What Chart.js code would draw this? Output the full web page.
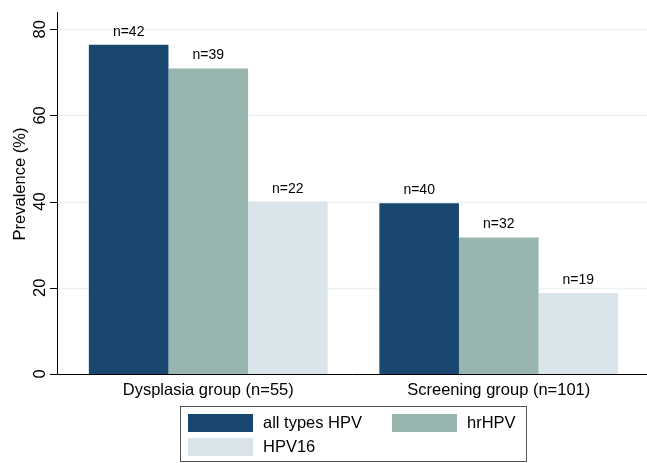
<!DOCTYPE html>
<html lang="en">
<head>
    <meta charset="UTF-8">
    <title>HPV prevalence</title>
    <style>
        html, body { margin: 0; padding: 0; background: #fff; }
        #wrap { position: relative; width: 647px; height: 463px; }
    </style>
</head>
<body>
    <div id="wrap">
        <canvas id="prevChart" width="647" height="463"></canvas>
    </div>

    <script src="https://cdn.jsdelivr.net/npm/chart.js"></script>
    <script>
        const groups = ['Dysplasia group (n=55)', 'Screening group (n=101)'];
        const seriesNames = ['all types HPV', 'hrHPV', 'HPV16'];
        const allTypes = [76.4, 39.6];
        const hrHpv = [70.9, 31.7];
        const hpv16 = [40.0, 18.8];
        const allTypesN = ['n=42', 'n=40'];
        const hrHpvN = ['n=39', 'n=32'];
        const hpv16N = ['n=22', 'n=19'];
        const yTicks = [0, 20, 40, 60, 80];
        const yTitle = 'Prevalence (%)';

        const colors = ['#1a476f', '#98b6af', '#d9e5eb'];
        const font = '"Liberation Sans", Arial, sans-serif';
        const axisX = 57; // Stata puts the y axis a little left of the plot region

        // grid + axes (drawn from axisX), n= labels, rotated y ticks, boxed legend
        const extras = {
            id: 'extras',
            beforeDatasetsDraw(chart) {
                const ctx = chart.ctx;
                const y = chart.scales.y;
                const area = chart.chartArea;
                ctx.save();
                ctx.strokeStyle = '#eaf2f3';
                ctx.lineWidth = 1.5;
                yTicks.forEach(v => {
                    if (v === 0) return;
                    const py = Math.round(y.getPixelForValue(v)) + 0.5;
                    ctx.beginPath();
                    ctx.moveTo(axisX, py);
                    ctx.lineTo(chart.width, py);
                    ctx.stroke();
                });
                ctx.restore();
            },
            afterDatasetsDraw(chart) {
                const ctx = chart.ctx;
                const y = chart.scales.y;
                const area = chart.chartArea;
                ctx.save();
                ctx.strokeStyle = '#000';
                ctx.lineWidth = 1;
                ctx.beginPath();
                ctx.moveTo(axisX + 0.5, area.top);
                ctx.lineTo(axisX + 0.5, area.bottom + 0.5);
                ctx.lineTo(chart.width, area.bottom + 0.5);
                yTicks.forEach(v => {
                    const py = Math.round(y.getPixelForValue(v)) + 0.5;
                    ctx.moveTo(axisX - 7, py);
                    ctx.lineTo(axisX, py);
                });
                ctx.stroke();

                const labels = [allTypesN, hrHpvN, hpv16N];
                ctx.fillStyle = '#000';
                ctx.font = '14px ' + font;
                ctx.textAlign = 'center';
                ctx.textBaseline = 'alphabetic';
                chart.data.datasets.forEach((ds, i) => {
                    chart.getDatasetMeta(i).data.forEach((bar, j) => {
                        ctx.fillText(labels[i][j], bar.x, bar.y - 9);
                    });
                });
                ctx.restore();
            },
            afterDraw(chart) {
                const ctx = chart.ctx;
                const y = chart.scales.y;
                ctx.save();
                ctx.fillStyle = '#000';
                ctx.font = '16.5px ' + font;
                ctx.textAlign = 'center';
                ctx.textBaseline = 'middle';
                yTicks.forEach(v => {
                    ctx.save();
                    ctx.translate(40, y.getPixelForValue(v));
                    ctx.rotate(-Math.PI / 2);
                    ctx.fillText(String(v), 0, 0);
                    ctx.restore();
                });
                ctx.save();
                ctx.translate(20, 184);
                ctx.rotate(-Math.PI / 2);
                ctx.fillText(yTitle, 0, 0);
                ctx.restore();

                // legend
                ctx.strokeStyle = '#555';
                ctx.lineWidth = 1;
                ctx.strokeRect(180.5, 406.5, 346, 55);
                const pos = [[188, 414], [392, 414], [188, 438]];
                ctx.textAlign = 'left';
                seriesNames.forEach((name, i) => {
                    ctx.fillStyle = colors[i];
                    ctx.fillRect(pos[i][0], pos[i][1], 65, 18);
                    ctx.fillStyle = '#000';
                    ctx.fillText(name, pos[i][0] + 75, pos[i][1] + 9.5);
                });
                ctx.restore();
            }
        };

        new Chart(document.getElementById('prevChart'), {
            type: 'bar',
            data: {
                labels: groups,
                datasets: [
                    { label: seriesNames[0], data: allTypes, backgroundColor: colors[0] },
                    { label: seriesNames[1], data: hrHpv, backgroundColor: colors[1] },
                    { label: seriesNames[2], data: hpv16, backgroundColor: colors[2] }
                ]
            },
            options: {
                responsive: false,
                animation: false,
                layout: { padding: { top: 12, right: 3, bottom: 0, left: 0 } },
                datasets: {
                    bar: { barPercentage: 1.0, categoryPercentage: 0.822, borderWidth: 0 }
                },
                plugins: {
                    legend: { display: false },
                    tooltip: { enabled: false }
                },
                scales: {
                    x: {
                        grid: { display: false, drawTicks: false },
                        border: { display: false },
                        ticks: { color: '#000', font: { family: font, size: 16.5 }, padding: 7 },
                        afterFit(scale) { scale.height = 89; }
                    },
                    y: {
                        min: 0,
                        max: 84,
                        afterBuildTicks(scale) { scale.ticks = yTicks.map(v => ({ value: v })); },
                        grid: { display: false },
                        border: { display: false },
                        ticks: { display: false },
                        afterFit(scale) { scale.width = 63; }
                    }
                }
            },
            plugins: [extras]
        });
    </script>
</body>
</html>
